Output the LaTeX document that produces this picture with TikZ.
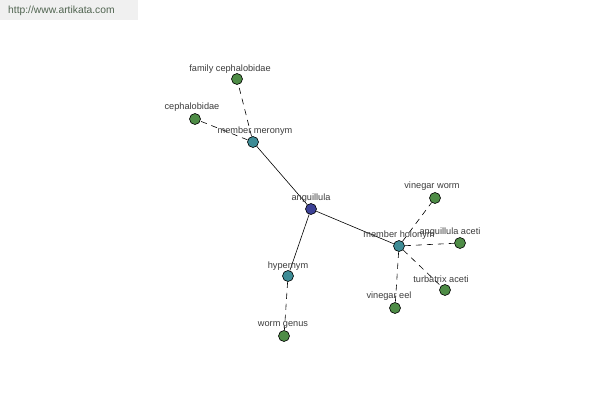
\documentclass[tikz,border=0pt]{standalone}
\usepackage{fontspec}
\setmainfont{Liberation Sans}
\begin{document}
\begin{tikzpicture}[x=1pt,y=-1pt,
  dot/.style={circle,draw=black,line width=0.6pt,minimum size=11pt,inner sep=0pt},
  hub/.style={dot,fill=hubcol},
  leaf/.style={dot,fill=leafcol},
  root/.style={dot,fill=rootcol},
  lbl/.style={font=\fontsize{9.2}{10}\selectfont,text=labcol,inner sep=0pt},
  solidedge/.style={draw=black,line width=0.6pt},
  dashedge/.style={draw=black,line width=0.6pt,dash pattern=on 6pt off 5pt}]
\definecolor{hubcol}{RGB}{62,140,150}
\definecolor{leafcol}{RGB}{78,140,70}
\definecolor{rootcol}{RGB}{60,65,150}
\definecolor{labcol}{RGB}{60,60,60}
\useasboundingbox (0,0) rectangle (600,400);
\fill[white] (0,0) rectangle (600,400);
\node[fill={rgb,255:red,240;green,240;blue,240},minimum width=138pt,minimum height=20pt,anchor=north west,inner sep=0pt] (wm) at (0,0) {};
\node[font=\fontsize{10.3}{11}\selectfont,text={rgb,255:red,80;green,100;blue,80},anchor=west,inner sep=0pt] (wmt) at (8,11) {http://www.artikata.com};
% nodes
\node[root] (ang) at (311,209) {};
\node[hub] (mer) at (253,142) {};
\node[leaf] (fam) at (237,79) {};
\node[leaf] (cep) at (195,119) {};
\node[hub] (hol) at (399,246) {};
\node[leaf] (vw) at (435,198) {};
\node[leaf] (aa) at (460,243) {};
\node[leaf] (ta) at (445,290) {};
\node[leaf] (ve) at (395,308) {};
\node[hub] (hyp) at (288,276) {};
\node[leaf] (wg) at (284,336) {};
% edges
\path[solidedge] (ang) -- (mer);
\path[solidedge] (ang) -- (hyp);
\path[solidedge] (ang) -- (hol);
\path[dashedge] (mer) -- (fam);
\path[dashedge] (mer) -- (cep);
\path[dashedge] (hyp) -- (wg);
\path[dashedge] (hol) -- (vw);
\path[dashedge] (hol) -- (aa);
\path[dashedge] (hol) -- (ta);
\path[dashedge] (hol) -- (ve);
% labels
\node[lbl] (l1) at (311,198) {anguillula};
\node[lbl] (l2) at (255,131) {member meronym};
\node[lbl] (l3) at (230,69) {family cephalobidae};
\node[lbl] (l4) at (192,107) {cephalobidae};
\node[lbl] (l5) at (399,235) {member holonym};
\node[lbl] (l6) at (432,186) {vinegar worm};
\node[lbl] (l7) at (450,232) {anguillula aceti};
\node[lbl] (l8) at (441,279) {turbatrix aceti};
\node[lbl] (l9) at (389,296) {vinegar eel};
\node[lbl] (l10) at (288,266) {hypernym};
\node[lbl] (l11) at (283,325) {worm genus};
\end{tikzpicture}
\end{document}
